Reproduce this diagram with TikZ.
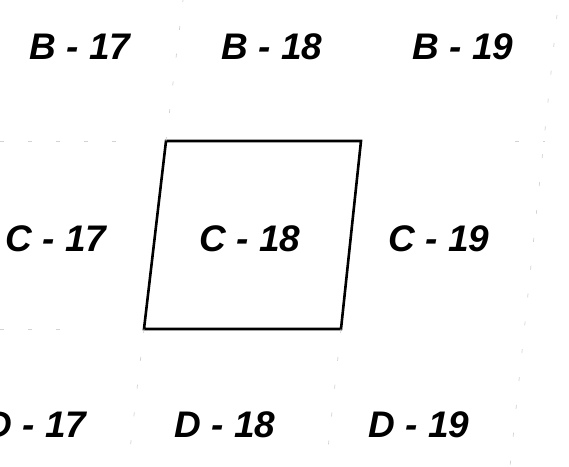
\documentclass[tikz,border=0pt]{standalone}
\usepackage{fontspec}
\setmainfont{Liberation Sans}
\usepackage{tikz}
\usetikzlibrary{positioning,calc}

\begin{document}
\begin{tikzpicture}[x=0.5pt, y=-0.5pt,
    sheet/.style={font=\fontsize{18.5}{18.5}\selectfont\bfseries\itshape, inner sep=0pt},
    outline/.style={draw, line width=1.3pt, line join=miter},
    faint/.style={gray!35, line width=0.35pt, dash pattern=on 2pt off 12pt}]

    \clip (0,0) rectangle (569,467);

    % sheet index: rows B, C, D and columns 17, 18, 19
    \node[sheet] (b17) at (80,47) {B - 17};
    \node[sheet] (b18) at (272,47) {B - 18};
    \node[sheet] (b19) at (463,47) {B - 19};
    \node[sheet] (c17) at (56,239) {C - 17};
    \node[sheet] (c18) at (250,239) {C - 18};
    \node[sheet] (c19) at (439,239) {C - 19};
    \node[sheet] (d17) at (36,425) {D - 17};
    \node[sheet] (d18) at (225,425) {D - 18};
    \node[sheet] (d19) at (419,425) {D - 19};

    \coordinate (tl) at (166,141);
    \coordinate (tr) at (361,141);
    \coordinate (br) at (341,329);
    \coordinate (bl) at (144,329);

    \draw[outline] (tl) -- (tr) -- (br) -- (bl) -- cycle;

    \draw[faint] (tl) -- (183,0);
    \draw[faint] (bl) -- (128,467);
    \draw[faint] (br) -- (326,467);
    \draw[faint] (557,15) -- (510,467);
    \draw[faint] (0,141) -- (130,141);
    \draw[faint] (515,141) -- (545,141);
    \draw[faint] (0,329) -- (60,329);
\end{tikzpicture}
\end{document}
